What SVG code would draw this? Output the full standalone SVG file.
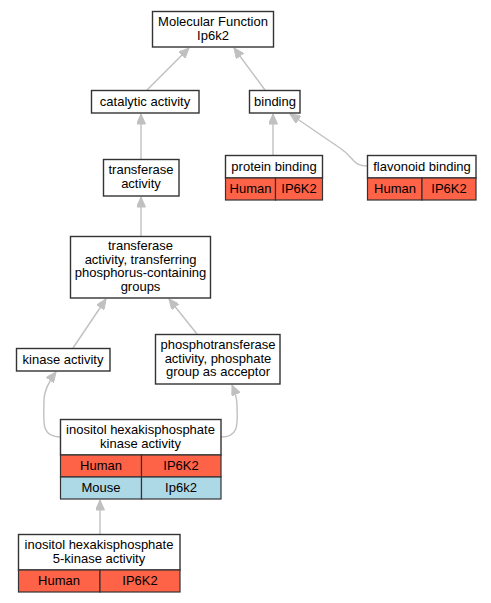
<svg xmlns="http://www.w3.org/2000/svg" width="491" height="603" viewBox="0 0 491 603">
<defs>
<style>
text{font-family:"Liberation Sans",Arial,sans-serif;font-size:13px;fill:#000;text-anchor:middle}
.box{fill:#fff;stroke:#333;stroke-width:1.4}
.hu{fill:#ff6347;stroke:#333;stroke-width:1.2}
.mo{fill:#add8e6;stroke:#333;stroke-width:1.2}
.e{fill:none;stroke:#c0c0c0;stroke-width:1.4}
</style>
<marker id="ah" viewBox="0 0 10 9" refX="10" refY="4.5" markerWidth="11" markerHeight="9" markerUnits="userSpaceOnUse" orient="auto">
<path d="M0,0 L10,4.5 L0,9 Z" fill="#c0c0c0" stroke="#c0c0c0"/>
</marker>
</defs>
<rect width="491" height="603" fill="#fff"/>
<g id="edges">
<path class="e" marker-end="url(#ah)" d="M147,90 L189,48"/>
<path class="e" marker-end="url(#ah)" d="M265,90 L234,48"/>
<path class="e" marker-end="url(#ah)" d="M141,159 L141,114"/>
<path class="e" marker-end="url(#ah)" d="M273,155 L273,114"/>
<path class="e" marker-end="url(#ah)" d="M367,166 C352,166 355,158 340,148 C325,138 305,124 290,114"/>
<path class="e" marker-end="url(#ah)" d="M141,236 L141,197"/>
<path class="e" marker-end="url(#ah)" d="M73,348 L106,299"/>
<path class="e" marker-end="url(#ah)" d="M197,334 L169,299"/>
<path class="e" marker-end="url(#ah)" d="M60,437 C40,437 44,420 44,400 C44,390 50,380 56,372"/>
<path class="e" marker-end="url(#ah)" d="M221,437 C241,437 237,420 237,405 C237,398 235,392 232,385"/>
<path class="e" marker-end="url(#ah)" d="M100,534 L100,500"/>
</g>
<g id="mf">
<rect class="box" x="152.5" y="11.5" width="121" height="35.5"/>
<text x="213" y="26">Molecular Function</text>
<text x="213" y="40">Ip6k2</text>
</g>
<g id="catalytic">
<rect class="box" x="91.5" y="90.5" width="107.5" height="22.5"/>
<text x="145" y="106">catalytic activity</text>
</g>
<g id="binding">
<rect class="box" x="249.5" y="90.5" width="50.5" height="22.5"/>
<text x="275" y="106">binding</text>
</g>
<g id="protein">
<rect class="box" x="225.5" y="155.5" width="97" height="22.5"/>
<rect class="hu" x="225.5" y="178" width="50" height="22"/>
<rect class="hu" x="275.5" y="178" width="47" height="22"/>
<text x="274" y="171">protein binding</text>
<text x="250.5" y="193">Human</text>
<text x="299" y="193">IP6K2</text>
</g>
<g id="flavonoid">
<rect class="box" x="367.5" y="155.5" width="108.5" height="22.5"/>
<rect class="hu" x="367.5" y="178" width="54.5" height="22"/>
<rect class="hu" x="422" y="178" width="54" height="22"/>
<text x="422" y="171">flavonoid binding</text>
<text x="395" y="193">Human</text>
<text x="449" y="193">IP6K2</text>
</g>
<g id="transferase">
<rect class="box" x="103.5" y="159.5" width="75.5" height="36.5"/>
<text x="141" y="174">transferase</text>
<text x="141" y="188">activity</text>
</g>
<g id="transferring">
<rect class="box" x="70.5" y="236.5" width="140" height="61.5"/>
<text x="140.5" y="250">transferase</text>
<text x="140.5" y="263.5">activity, transferring</text>
<text x="140.5" y="277">phosphorus-containing</text>
<text x="140.5" y="290.5">groups</text>
</g>
<g id="kinase">
<rect class="box" x="16.5" y="348.5" width="93.5" height="22.5"/>
<text x="63" y="364">kinase activity</text>
</g>
<g id="phospho">
<rect class="box" x="155.5" y="334.5" width="124.5" height="49.5"/>
<text x="218" y="349">phosphotransferase</text>
<text x="218" y="362.5">activity, phosphate</text>
<text x="218" y="376">group as acceptor</text>
</g>
<g id="ip6k">
<rect class="box" x="60.5" y="419.5" width="160.5" height="35.5"/>
<rect class="hu" x="60.5" y="455" width="81" height="22"/>
<rect class="hu" x="141.5" y="455" width="79.5" height="22"/>
<rect class="mo" x="60.5" y="477" width="81" height="22"/>
<rect class="mo" x="141.5" y="477" width="79.5" height="22"/>
<text x="140.5" y="433.5">inositol hexakisphosphate</text>
<text x="140.5" y="447.5">kinase activity</text>
<text x="101" y="470">Human</text>
<text x="181" y="470">IP6K2</text>
<text x="101" y="492">Mouse</text>
<text x="181" y="492">Ip6k2</text>
</g>
<g id="ip6k5">
<rect class="box" x="18.5" y="534.5" width="161.5" height="35.5"/>
<rect class="hu" x="18.5" y="570" width="81.5" height="22"/>
<rect class="hu" x="100" y="570" width="80" height="22"/>
<text x="99" y="548.5">inositol hexakisphosphate</text>
<text x="99" y="562.5">5-kinase activity</text>
<text x="59" y="585">Human</text>
<text x="140" y="585">IP6K2</text>
</g>
</svg>
